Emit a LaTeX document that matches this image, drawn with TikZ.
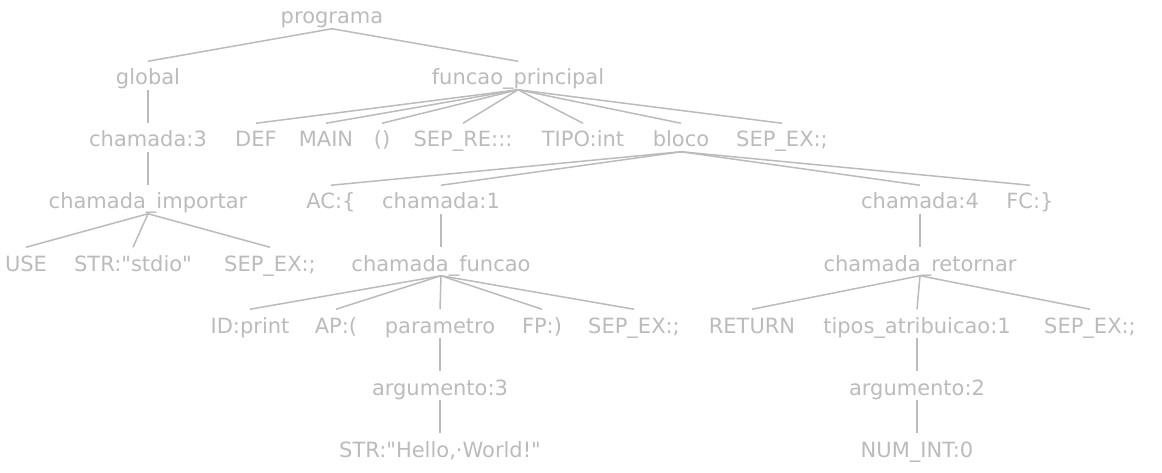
\documentclass[tikz,border=0pt]{standalone}
\usepackage{fontspec}
\newfontfamily\treefont{DejaVu Sans}
\usepackage{xcolor}
\usepackage{tikz}
\definecolor{treeGray}{HTML}{BBBBBB}

\begin{document}
\begin{tikzpicture}[x=1pt,y=-1pt,line width=1.5pt,draw=treeGray,
    tok/.style = {anchor=base,inner sep=0pt,text height=23pt,text depth=4pt,
                  text=treeGray,font=\treefont\fontsize{21pt}{25pt}\selectfont}]
    \useasboundingbox (0,0) rectangle (1162,473);

    % level 0 and 1
    \node[tok](programa) at (332,24) {programa};
    \node[tok](global) at (148,85) {global};
    \node[tok](funcaoPrincipal) at (518,85) {funcao\_principal};

    % level 2
    \node[tok](chamadaTres) at (148,147) {chamada:3};
    \node[tok](def) at (256,147) {DEF};
    \node[tok](mainTok) at (326,147) {MAIN};
    \node[tok](parens) at (382,147) {()};
    \node[tok](sepRe) at (463,147) {SEP\_RE:::};
    \node[tok](tipoInt) at (583,147) {TIPO:int};
    \node[tok](bloco) at (681,147) {bloco};
    \node[tok](sepExA) at (782,147) {SEP\_EX:;};

    % level 3
    \node[tok](chamadaImportar) at (148,209) {chamada\_importar};
    \node[tok](acOpen) at (331,209) {AC:\{};
    \node[tok](chamadaUm) at (441,209) {chamada:1};
    \node[tok](chamadaQuatro) at (920,209) {chamada:4};
    \node[tok](fcClose) at (1030,209) {FC:\}};

    % level 4
    \node[tok](useTok) at (26,271) {USE};
    \node[tok](strStdio) at (133,271) {STR:"stdio"};
    \node[tok](sepExB) at (270,271) {SEP\_EX:;};
    \node[tok](chamadaFuncao) at (441,271) {chamada\_funcao};
    \node[tok](chamadaRetornar) at (920,271) {chamada\_retornar};

    % level 5
    \node[tok](idPrint) at (250,333) {ID:print};
    \node[tok](apOpen) at (336,333) {AP:(};
    \node[tok](parametro) at (440,333) {parametro};
    \node[tok](fpClose) at (542,333) {FP:)};
    \node[tok](sepExC) at (634,333) {SEP\_EX:;};
    \node[tok](returnTok) at (752,333) {RETURN};
    \node[tok](tiposAtribuicao) at (917,333) {tipos\_atribuicao:1};
    \node[tok](sepExD) at (1090,333) {SEP\_EX:;};

    % level 6 and 7
    \node[tok](argumentoTres) at (440,395) {argumento:3};
    \node[tok](argumentoDois) at (917,395) {argumento:2};
    \node[tok](strHello) at (440,457) {STR:"Hello,·World!"};
    \node[tok](numInt) at (917,457) {NUM\_INT:0};

    % edges
    \draw (programa.south) -- (global.north);
    \draw (programa.south) -- (funcaoPrincipal.north);
    \draw (global.south) -- (chamadaTres.north);
    \draw (chamadaTres.south) -- (chamadaImportar.north);
    \draw (chamadaImportar.south) -- (useTok.north);
    \draw (chamadaImportar.south) -- (strStdio.north);
    \draw (chamadaImportar.south) -- (sepExB.north);

    \draw (funcaoPrincipal.south) -- (def.north);
    \draw (funcaoPrincipal.south) -- (mainTok.north);
    \draw (funcaoPrincipal.south) -- (parens.north);
    \draw (funcaoPrincipal.south) -- (sepRe.north);
    \draw (funcaoPrincipal.south) -- (tipoInt.north);
    \draw (funcaoPrincipal.south) -- (bloco.north);
    \draw (funcaoPrincipal.south) -- (sepExA.north);

    \draw (bloco.south) -- (acOpen.north);
    \draw (bloco.south) -- (chamadaUm.north);
    \draw (bloco.south) -- (chamadaQuatro.north);
    \draw (bloco.south) -- (fcClose.north);

    \draw (chamadaUm.south) -- (chamadaFuncao.north);
    \draw (chamadaFuncao.south) -- (idPrint.north);
    \draw (chamadaFuncao.south) -- (apOpen.north);
    \draw (chamadaFuncao.south) -- (parametro.north);
    \draw (chamadaFuncao.south) -- (fpClose.north);
    \draw (chamadaFuncao.south) -- (sepExC.north);
    \draw (parametro.south) -- (argumentoTres.north);
    \draw (argumentoTres.south) -- (strHello.north);

    \draw (chamadaQuatro.south) -- (chamadaRetornar.north);
    \draw (chamadaRetornar.south) -- (returnTok.north);
    \draw (chamadaRetornar.south) -- (tiposAtribuicao.north);
    \draw (chamadaRetornar.south) -- (sepExD.north);
    \draw (tiposAtribuicao.south) -- (argumentoDois.north);
    \draw (argumentoDois.south) -- (numInt.north);
\end{tikzpicture}
\end{document}
